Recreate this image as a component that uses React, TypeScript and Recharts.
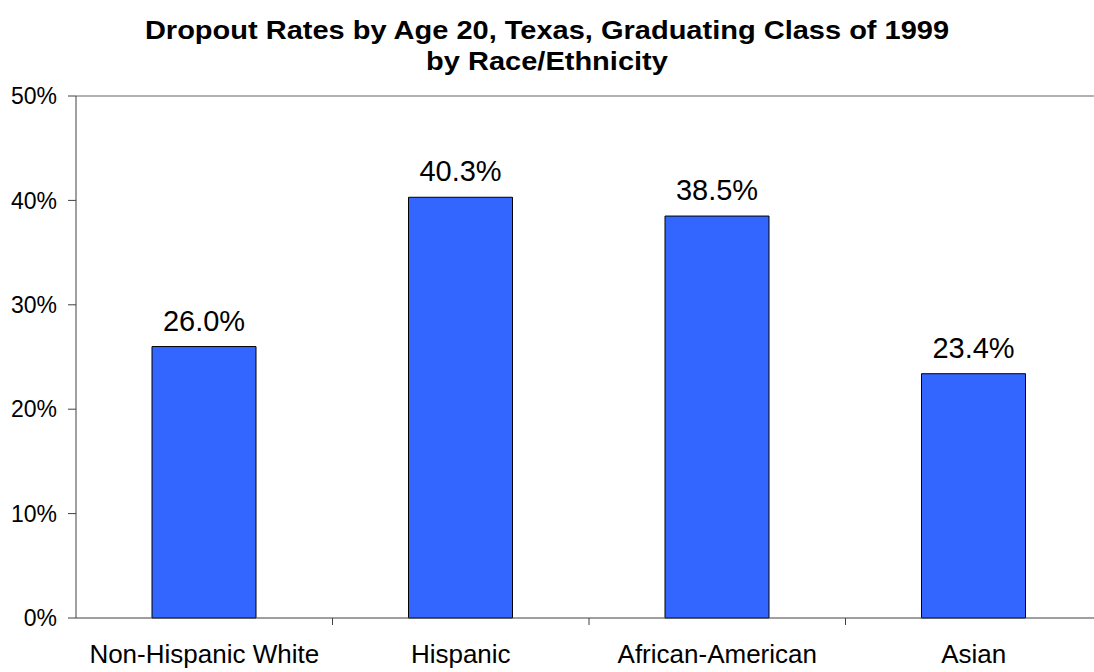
import { BarChart, Bar, XAxis, YAxis, LabelList, ReferenceLine } from 'recharts'

const groups = ['Non-Hispanic White', 'Hispanic', 'African-American', 'Asian']
const dropoutRates = [26.0, 40.3, 38.5, 23.4]
const yTicks = [0, 10, 20, 30, 40, 50]

const data = groups.map((name, i) => ({ name, rate: dropoutRates[i] }))

const TICK_SIZE = 7
const TICK_MARGIN = 20

// category labels, with the tick mark drawn on the boundary to the right
const CategoryTick = (props: any) => {
	const { x, y, payload, index, visibleTicksCount } = props
	const half = payload?.offset ?? 0
	const lineTop = y - TICK_MARGIN - TICK_SIZE
	return (
		<g>
			{index < visibleTicksCount - 1 && (
				<line
					x1={x + half}
					x2={x + half}
					y1={lineTop}
					y2={lineTop + TICK_SIZE}
					stroke='#404040'
					strokeWidth={1}
				/>
			)}
			<text
				x={x}
				y={y}
				dy='0.71em'
				textAnchor='middle'
				fill='#000'
				fontSize={26}
				fontFamily='Liberation Sans, Arial, sans-serif'>
				{payload.value}
			</text>
		</g>
	)
}

export default function App() {
	return (
		<div
			style={{
				position: 'fixed',
				left: 0,
				top: 0,
				width: 1094,
				height: 672,
				overflow: 'hidden',
				background: '#fff',
				fontFamily: 'Liberation Sans, Arial, sans-serif',
			}}>
			<div
				style={{
					position: 'absolute',
					left: 0,
					top: 15,
					width: 1094,
					textAlign: 'center',
					fontWeight: 'bold',
					fontSize: 25,
					lineHeight: '31px',
					color: '#000',
					transform: 'scaleX(1.16)',
					transformOrigin: '547px 0',
				}}>
				Dropout Rates by Age 20, Texas, Graduating Class of 1999
				<br />
				by Race/Ethnicity
			</div>
			<BarChart
				width={1120}
				height={672}
				data={data}
				margin={{ top: 96, right: 18, bottom: 0, left: 0 }}>
				<ReferenceLine y={50} stroke='#999' strokeWidth={1.5} />
				<XAxis
					dataKey='name'
					height={54}
					interval={0}
					stroke='#404040'
					tickLine={false}
					tickSize={TICK_SIZE}
					tickMargin={TICK_MARGIN}
					tick={<CategoryTick />}
				/>
				<YAxis
					domain={[0, 50]}
					ticks={yTicks}
					width={76}
					stroke='#404040'
					tickSize={8}
					tickMargin={11}
					tickFormatter={(v: number) => `${v}%`}
					tick={{ fill: '#000', fontSize: 23 }}
				/>
				<Bar
					dataKey='rate'
					fill='#3366FF'
					stroke='#000'
					strokeWidth={1}
					barSize={104}
					isAnimationActive={false}>
					<LabelList
						dataKey='rate'
						position='top'
						offset={16}
						formatter={(v: any) => `${Number(v).toFixed(1)}%`}
						fill='#000'
						fontSize={29}
					/>
				</Bar>
			</BarChart>
		</div>
	)
}
